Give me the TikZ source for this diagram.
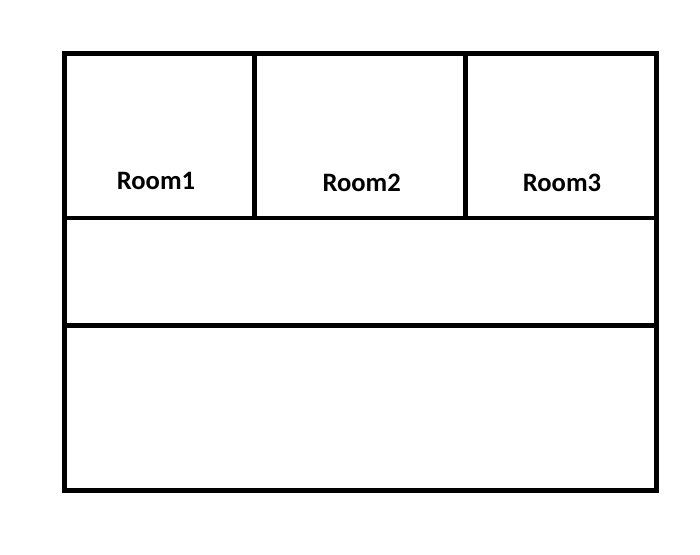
\documentclass[tikz,border=0pt]{standalone}
\usepackage{fontspec}
\setmainfont{Carlito}
\tikzset{
  wall/.style={line width=4.8pt, line cap=rect, line join=miter},
  roomlabel/.style={font=\bfseries\fontsize{26.6}{26.6}\selectfont, anchor=base, inner sep=0pt}
}
\begin{document}
\begin{tikzpicture}[x=1pt,y=-1pt]
\useasboundingbox[fill=white] (0,0) rectangle (700,554);
\draw[wall] (64.3,53.5) rectangle (656.6,490.7);
\draw[wall] (64.3,218) -- (656.6,218);
\draw[wall] (64.3,325.5) -- (656.6,325.5);
\draw[wall] (254.5,53.5) -- (254.5,218);
\draw[wall] (465.7,53.5) -- (465.7,218);
\node[roomlabel] (r1) at (156,189.3) {Room1};
\node[roomlabel] (r2) at (361.7,191.5) {Room2};
\node[roomlabel] (r3) at (562,191.7) {Room3};
\end{tikzpicture}
\end{document}
